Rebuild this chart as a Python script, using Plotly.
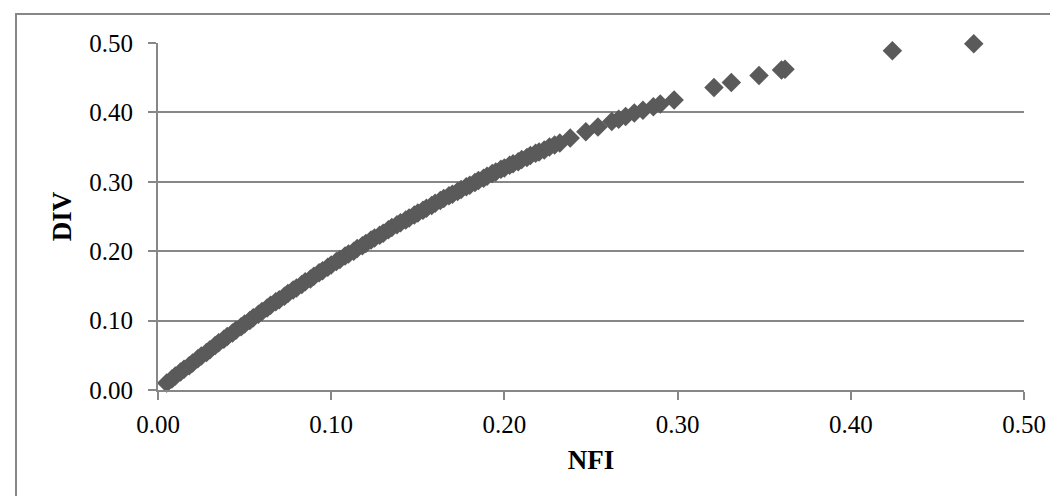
import plotly.graph_objects as go

nfi = [0.005, 0.008, 0.010, 0.013, 0.015, 0.018, 0.020, 0.023, 0.025, 0.028,
       0.030, 0.033, 0.035, 0.038, 0.040, 0.043, 0.045, 0.048, 0.050, 0.053,
       0.055, 0.058, 0.060, 0.063, 0.065, 0.068, 0.070, 0.073, 0.075, 0.078,
       0.080, 0.083, 0.085, 0.088, 0.090, 0.093, 0.095, 0.098, 0.100, 0.103,
       0.105, 0.108, 0.110, 0.113, 0.115, 0.118, 0.120, 0.123, 0.125, 0.128,
       0.130, 0.133, 0.135, 0.138, 0.140, 0.143, 0.145, 0.148, 0.150, 0.153,
       0.155, 0.158, 0.160, 0.163, 0.165, 0.168, 0.170, 0.173, 0.175, 0.178,
       0.180, 0.183, 0.185, 0.188, 0.190, 0.193, 0.195, 0.198, 0.200, 0.203,
       0.205, 0.208, 0.210, 0.213, 0.215, 0.218, 0.220, 0.223, 0.226, 0.229,
       0.232, 0.238, 0.247, 0.254, 0.262, 0.266, 0.270, 0.275, 0.280, 0.286,
       0.290, 0.298, 0.321, 0.331, 0.347, 0.360, 0.362, 0.424, 0.471]
div = [0.010, 0.016, 0.020, 0.026, 0.030, 0.035, 0.039, 0.045, 0.049, 0.054,
       0.058, 0.064, 0.068, 0.073, 0.077, 0.082, 0.086, 0.091, 0.095, 0.100,
       0.104, 0.109, 0.113, 0.118, 0.122, 0.127, 0.130, 0.135, 0.139, 0.144,
       0.147, 0.152, 0.156, 0.160, 0.164, 0.169, 0.172, 0.177, 0.180, 0.185,
       0.188, 0.193, 0.196, 0.200, 0.204, 0.208, 0.211, 0.216, 0.219, 0.223,
       0.226, 0.231, 0.234, 0.238, 0.241, 0.245, 0.248, 0.252, 0.255, 0.259,
       0.262, 0.266, 0.269, 0.273, 0.276, 0.280, 0.282, 0.286, 0.289, 0.293,
       0.295, 0.299, 0.302, 0.305, 0.308, 0.312, 0.314, 0.318, 0.320, 0.324,
       0.326, 0.329, 0.332, 0.335, 0.338, 0.341, 0.343, 0.346, 0.350, 0.353,
       0.356, 0.363, 0.372, 0.379, 0.387, 0.390, 0.394, 0.399, 0.403, 0.408,
       0.412, 0.418, 0.436, 0.443, 0.453, 0.461, 0.462, 0.489, 0.499]

tick_vals = [0.0, 0.1, 0.2, 0.3, 0.4, 0.5]
tick_text = ["0.00", "0.10", "0.20", "0.30", "0.40", "0.50"]

W, H = 1058, 496
L, R, T, B = 150, 1016, 35, 382

fig = go.Figure()
fig.add_trace(go.Scatter(
    x=nfi, y=div, mode="markers", cliponaxis=False,
    marker=dict(symbol="diamond", size=15, color="#5a5a5a",
                line=dict(width=0)),
    showlegend=False, hoverinfo="x+y"))

fam = "Liberation Serif, Times New Roman, serif"
font = dict(family=fam, size=25, color="#000000")
axis_common = dict(
    range=[0, 0.5], tickvals=tick_vals, ticktext=tick_text,
    showgrid=True, gridcolor="#878787", gridwidth=2,
    showline=True, linecolor="#878787", linewidth=2,
    ticks="outside", ticklen=8, tickwidth=2, tickcolor="#878787",
    zeroline=False, tickfont=font, fixedrange=True,
)

fig.update_layout(
    width=W, height=H,
    margin=dict(l=L, r=W - R, t=T, b=H - B, pad=0),
    paper_bgcolor="white", plot_bgcolor="white",
    xaxis=dict(**axis_common, ticklabelstandoff=3,
               title=dict(text="<b>NFI</b>", font=dict(family=fam, size=27, color="#000"),
                          standoff=13)),
    yaxis=dict(**axis_common, ticklabelstandoff=10,
               title=dict(text="<b>DIV</b>", font=dict(family=fam, size=27, color="#000"),
                          standoff=10)),
)
fig.update_xaxes(showgrid=False)

pw, ph = R - L, B - T
def px(xp):
    return (xp - L) / pw
def py(yp):
    return (B - yp) / ph

fig.add_shape(type="rect", xref="paper", yref="paper",
              x0=px(8), x1=px(1070), y0=py(510), y1=py(6),
              line=dict(color="#878787", width=2), fillcolor="rgba(0,0,0,0)",
              layer="below")

fig.write_html("out.html")
